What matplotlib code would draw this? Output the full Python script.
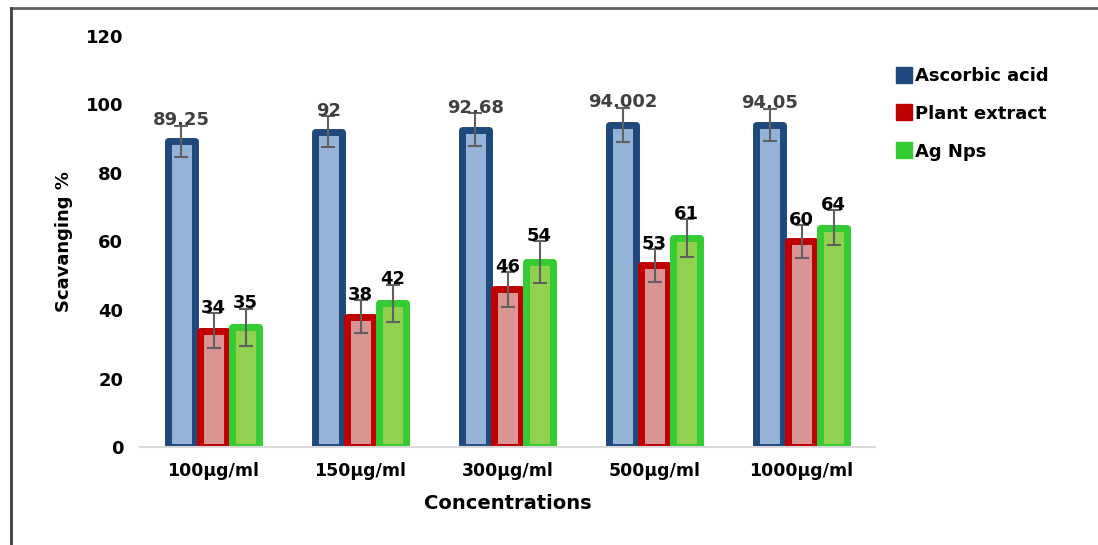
import matplotlib
matplotlib.use("Agg")
import matplotlib.pyplot as plt
import numpy as np
from matplotlib.lines import Line2D

plt.rcParams['font.family'] = ['DejaVu Sans']

categories = ["100µg/ml", "150µg/ml", "300µg/ml", "500µg/ml", "1000µg/ml"]
series_names = ["Ascorbic acid", "Plant extract", "Ag Nps"]
ascorbic = [89.25, 92, 92.68, 94.002, 94.05]
plant = [34, 38, 46, 53, 60]
agnps = [35, 42, 54, 61, 64]
ascorbic_err = [4.6, 4.5, 4.7, 5.1, 4.7]
plant_err = [5.0, 4.8, 5.0, 4.7, 4.7]
agnps_err = [5.4, 5.4, 6.0, 5.5, 5.1]
ascorbic_labels = ["89.25", "92", "92.68", "94.002", "94.05"]
plant_labels = ["34", "38", "46", "53", "60"]
agnps_labels = ["35", "42", "54", "61", "64"]

values = [ascorbic, plant, agnps]
errors = [ascorbic_err, plant_err, agnps_err]
labels = [ascorbic_labels, plant_labels, agnps_labels]
edge_colors = ["#1F497D", "#C00000", "#33CC33"]
face_colors = ["#95B3D7", "#D99594", "#92D050"]
label_colors = ["#404040", "#000000", "#000000"]

fig = plt.figure(figsize=(10.98, 5.45), dpi=100)
ax = fig.add_axes([0.1275, 0.1798, 0.6695, 0.7542])

x = np.arange(len(categories))
bw = 0.18
edge_lw = 5.0
for i in range(3):
    pos = x + (i - 1) * 0.218
    bars = ax.bar(pos, values[i], width=bw, color=face_colors[i], edgecolor=edge_colors[i],
                  linewidth=edge_lw, zorder=2)
    for b in bars:
        b.set_joinstyle('round')
    ax.errorbar(pos, values[i], yerr=errors[i], fmt='none', ecolor="#606060",
                elinewidth=1.5, capsize=5, capthick=1.5, zorder=3)
    for p, v, e, t in zip(pos, values[i], errors[i], labels[i]):
        ax.text(p, v + e - 1.0, t, ha='center', va='bottom', fontsize=13,
                fontweight='bold', color=label_colors[i], zorder=4)

ax.set_xlim(-0.5, 4.5)
ax.set_ylim(0, 120)
ax.set_yticks(np.arange(0, 121, 20))
ax.set_xticks(x)
ax.set_xticklabels(categories, fontsize=12.5, fontweight='bold')
ax.tick_params(axis='both', length=0)
ax.tick_params(axis='y', pad=12, labelsize=13)
ax.tick_params(axis='x', pad=11)
for lab in ax.get_yticklabels():
    lab.set_fontweight('bold')
for s in ['top', 'right', 'left']:
    ax.spines[s].set_visible(False)
ax.spines['bottom'].set_color('#D9D9D9')
ax.spines['bottom'].set_linewidth(1.5)

ax.set_ylabel("Scavanging %", fontsize=13, fontweight='bold', labelpad=9)
ax.set_xlabel("Concentrations", fontsize=14, fontweight='bold', labelpad=10)

handles = [Line2D([0], [0], marker='s', linestyle='none', markersize=11,
                  markerfacecolor=edge_colors[i], markeredgecolor=edge_colors[i])
           for i in range(3)]
leg = fig.legend(handles, series_names, loc='upper left', bbox_to_anchor=(0.80, 0.907),
                 frameon=False, handletextpad=0.1, labelspacing=1.1,
                 prop={'weight': 'bold', 'size': 13}, handlelength=1.0)

# outer frame (top and left)
fig.add_artist(Line2D([0.010, 1.0], [0.985, 0.985], color='#606060', lw=2,
                      transform=fig.transFigure))
fig.add_artist(Line2D([0.010, 0.010], [0.0, 0.985], color='#404040', lw=2,
                      transform=fig.transFigure))

fig.savefig("out.png", dpi=100)
